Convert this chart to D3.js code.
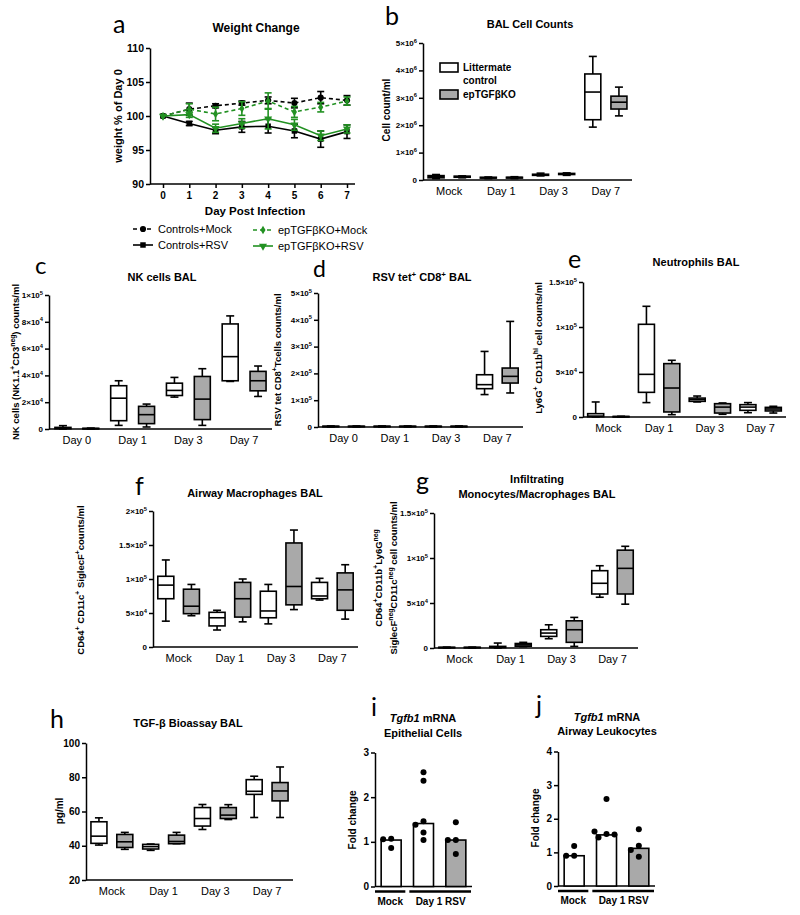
<!DOCTYPE html>
<html><head><meta charset="utf-8">
<script src="https://cdn.jsdelivr.net/npm/d3@7"></script>
<style>body{margin:0;background:#fff} svg{display:block} text{font-family:"Liberation Sans",Arial,sans-serif;fill:#000}</style>
</head><body><svg id="c" width="800" height="915"></svg>
<script>
// ---------- DATA ----------
// Panel a: weight change
const days = [0,1,2,3,4,5,6,7];
const ctrlMock = [100,101.0,101.5,101.9,102.3,101.9,102.7,102.3];
const ctrlMockErr = [0,0.9,0.3,0.3,0.5,0.7,0.9,0.7];
const ctrlRsv = [100,98.9,97.9,98.4,98.5,97.8,96.6,97.7];
const ctrlRsvErr = [0,0.3,0.5,0.8,1.0,1.0,1.2,1.0];
const koMock = [100,101.0,100.3,101.1,102.2,100.6,101.3,102.2];
const koMockErr = [0,0.8,1.0,1.0,1.2,0.8,0.7,0.6];
const koRsv = [100,100.2,98.2,98.9,99.6,98.7,97.1,98.1];
const koRsvErr = [0,0.4,0.6,0.7,1.5,0.8,0.7,0.6];
const weightTicks = [90,95,100,105,110];
const legendA = ["Controls+Mock","Controls+RSV","epTGF\u03B2KO+Mock","epTGF\u03B2KO+RSV"];

// Box plot panels: [min, q1, median, q3, max]
const groupsBox = ["Mock","Day 1","Day 3","Day 7"];
const groupsDay = ["Day 0","Day 1","Day 3","Day 7"];
const seriesNames = ["Littermate control","epTGF\u03B2KO"];

const bCtrl = [[0.05e6,0.08e6,0.12e6,0.16e6,0.2e6],[0.05e6,0.07e6,0.08e6,0.1e6,0.11e6],[0.15e6,0.17e6,0.19e6,0.21e6,0.25e6],[1.93e6,2.2e6,3.21e6,3.87e6,4.51e6]];
const bKO   = [[0.08e6,0.1e6,0.12e6,0.14e6,0.15e6],[0.05e6,0.07e6,0.09e6,0.1e6,0.12e6],[0.17e6,0.2e6,0.22e6,0.24e6,0.26e6],[2.34e6,2.59e6,2.84e6,3.06e6,3.39e6]];
const bTicks = [0,1e6,2e6,3e6,4e6,5e6];

const cCtrl = [[0,200,800,1200,2500],[2700,6200,23000,32300,36000],[23800,25000,28800,34200,38500],[35500,36000,54000,78400,84400]];
const cKO   = [[0,100,300,500,700],[1500,4000,10700,16900,18600],[2700,7000,22300,39200,45000],[24300,28500,36000,43000,47000]];
const cTicks = [0,2e4,4e4,6e4,8e4,1e5];

const dCtrl = [[0,1000,2000,3000,4000],[0,1000,2000,3000,4000],[0,1000,2000,3000,4000],[121000,143000,158000,195000,282000]];
const dKO   = [[0,1000,2000,3000,4000],[0,1000,2000,3000,4000],[0,1000,2000,3000,4000],[127000,164000,189000,220000,394000]];
const dTicks = [0,1e5,2e5,3e5,4e5,5e5];

const eCtrl = [[0,300,1000,3700,16700],[16000,27400,47400,103000,123000],[16700,17400,19300,21000,23300],[4800,7400,11000,13700,16000]];
const eKO   = [[0,200,400,600,800],[2600,5600,32200,59300,63000],[3000,4400,11000,14800,15600],[4400,6700,8900,10700,11900]];
const eTicks = [0,5e4,1e5,1.5e5];

const fCtrl = [[38000,71000,91000,104000,128000],[25000,31000,43000,51000,54000],[34000,43000,53000,82000,92000],[69000,71000,75000,95000,101000]];
const fKO   = [[46000,49000,60000,85000,92000],[37000,44000,71000,95000,100000],[55000,62000,89000,153000,172000],[41000,54000,84000,109000,121000]];
const fTicks = [0,5e4,1e5,1.5e5,2e5];

const gCtrl = [[0,300,500,800,1000],[0,500,1000,1800,5500],[10300,12900,16600,20300,25800],[56400,60000,71900,85900,91400]];
const gKO   = [[0,300,500,800,1000],[1500,2000,3500,5000,6300],[1800,6300,20300,30200,34000],[48700,60000,88500,108700,113000]];
const gTicks = [0,5e4,1e5,1.5e5];

const hCtrl = [[40.4,41.4,45.6,54,56.3],[37.3,38.1,39.5,40.8,41],[49.5,51.5,55.9,62.3,64.1],[56.5,70,71.8,78.6,80.6]];
const hKO   = [[37.9,39,42.3,46.6,47.8],[41.2,41.2,42.5,46.2,47.8],[55.3,55.9,57.9,62.3,64],[56.5,66.2,72,76.9,86]];
const hTicks = [20,40,60,80,100];

// Panels i, j: bars (mean) + individual points
const barGroups = ["Mock","Day 1 RSV"];
const iBars = [1.04,1.41,1.04];
const iDots = [[1.07,0.86,1.06],[2.56,2.37,1.46,1.38,1.21,1.04],[1.44,1.04,1.04,0.73]];
const iTicks = [0,1,2,3];
const jBars = [0.9,1.52,1.12];
const jDots = [[0.9,1.19,0.9],[2.59,1.55,1.44,1.53,1.62],[1.69,1.2,0.87,1.07]];
const jTicks = [0,1,2,3,4];

// ---------- HELPERS ----------
const svg = d3.select("#c");
const GREEN = "#229122", GRAY = "#a9a9a9";

function rich(sel, str, fs) {
  const re = /(\^\{[^}]*\})|(\*[^*]+\*)|([^\^*]+)/g;
  let m, shift = 0;
  while ((m = re.exec(str))) {
    if (m[1]) {
      sel.append("tspan").attr("dy", -fs*0.4).attr("font-size", fs*0.72).text(m[1].slice(2,-1));
      shift += fs*0.4;
    } else {
      const ts = sel.append("tspan").text(m[2] ? m[2].slice(1,-1) : m[3]);
      if (shift) { ts.attr("dy", shift); shift = 0; }
      if (m[2]) ts.attr("font-style","italic");
    }
  }
  return sel;
}
function txt(x, y, str, fs, opts={}) {
  const t = svg.append("text").attr("x", x).attr("y", y).attr("font-size", fs)
    .attr("font-weight", opts.weight || "bold").attr("text-anchor", opts.anchor || "middle");
  if (opts.family) t.style("font-family", opts.family);
  return rich(t, str, fs);
}
function vtxt(x, y, str, fs) {
  const t = svg.append("text").attr("transform", `translate(${x},${y}) rotate(-90)`)
    .attr("font-size", fs).attr("font-weight","bold").attr("text-anchor","middle");
  return rich(t, str, fs);
}
function letter(x, y, s, fs=25) {
  svg.append("text").attr("x", x).attr("y", y).attr("font-size", fs).attr("font-weight","normal")
    .style("font-family","Lato, 'Open Sans', sans-serif").text(s);
}
function sci(v) {
  if (v === 0) return "0";
  const e = Math.floor(Math.log10(v) + 1e-9);
  const m = +(v/Math.pow(10,e)).toFixed(1);
  return m + "\u00D710^{" + e + "}";
}
function yAxis(x, y, ticks, fmt, fs) {
  svg.append("g").attr("transform", `translate(${x},0)`)
    .call(d3.axisLeft(y).tickValues(ticks).tickSize(4).tickSizeOuter(0).tickFormat(""))
    .call(s => s.selectAll("path,line").attr("stroke","#000").attr("stroke-width",1.5));
  ticks.forEach(v => txt(x-6, y(v)+fs*0.36, fmt(v), fs, {anchor:"end"}));
}
function hline(x1, x2, y, w=1.5) {
  svg.append("line").attr("x1",x1).attr("x2",x2).attr("y1",y).attr("y2",y).attr("stroke","#000").attr("stroke-width",w);
}

// ---------- PANEL A ----------
(function(){
  const x = d3.scaleLinear().domain([0,7]).range([163,347]);
  const y = d3.scaleLinear().domain([90,110]).range([184,48]);
  yAxis(150, y, weightTicks, v => String(v), 10.5);
  hline(150, 355, 184);
  svg.append("g").attr("transform","translate(0,184)")
    .call(d3.axisBottom(x).tickValues(days).tickSize(4).tickFormat(""))
    .call(s => { s.select(".domain").remove(); s.selectAll("line").attr("stroke","#000").attr("stroke-width",1.5); });
  days.forEach(d => txt(x(d), 199, String(d), 10));
  txt(255, 215, "Day Post Infection", 11.5);
  vtxt(122, 116, "weight % of Day 0", 11);
  txt(256, 32, "Weight Change", 12);
  letter(113, 33, "a");

  const series = [
    {v: ctrlMock, e: ctrlMockErr, c:"#000", dash:"4,3", sym:d3.symbolCircle, size:30, rot:0},
    {v: ctrlRsv, e: ctrlRsvErr, c:"#000", dash:null, sym:d3.symbolSquare, size:30, rot:0},
    {v: koMock, e: koMockErr, c:GREEN, dash:"4,3", sym:d3.symbolDiamond, size:22, rot:0},
    {v: koRsv, e: koRsvErr, c:GREEN, dash:null, sym:d3.symbolTriangle, size:28, rot:180}
  ];
  series.forEach(s => {
    const line = d3.line().x((d,i)=>x(days[i])).y(d=>y(d));
    svg.append("path").attr("d", line(s.v)).attr("fill","none").attr("stroke", s.c)
      .attr("stroke-width",1.6).attr("stroke-dasharray", s.dash);
    s.v.forEach((v,i) => {
      if (!s.e[i]) return;
      const cx = x(days[i]), y1 = y(v - s.e[i]), y2 = y(v + s.e[i]);
      const g = svg.append("g").attr("stroke", s.c).attr("stroke-width",1.6);
      g.append("line").attr("x1",cx).attr("x2",cx).attr("y1",y1).attr("y2",y2);
      g.append("line").attr("x1",cx-3.5).attr("x2",cx+3.5).attr("y1",y1).attr("y2",y1);
      g.append("line").attr("x1",cx-3.5).attr("x2",cx+3.5).attr("y1",y2).attr("y2",y2);
    });
    s.v.forEach((v,i) => {
      svg.append("path").attr("d", d3.symbol(s.sym, s.size)())
        .attr("transform", `translate(${x(days[i])},${y(v)}) rotate(${s.rot})`).attr("fill", s.c);
    });
  });
  // legend
  const lg = [
    {x:133, y:229, s:series[0]}, {x:133, y:245, s:series[1]},
    {x:253, y:230, s:series[2]}, {x:253, y:246, s:series[3]}
  ];
  lg.forEach((l,i) => {
    svg.append("line").attr("x1",l.x).attr("x2",l.x+20).attr("y1",l.y).attr("y2",l.y)
      .attr("stroke", l.s.c).attr("stroke-width",1.6).attr("stroke-dasharray", l.s.dash);
    svg.append("path").attr("d", d3.symbol(l.s.sym, l.s.size)())
      .attr("transform", `translate(${l.x+10},${l.y}) rotate(${l.s.rot})`).attr("fill", l.s.c);
    txt(l.x+25, l.y+4, legendA[i], 11, {anchor:"start", weight:"normal"});
  });
})();

// ---------- BOX PANELS ----------
function boxPanel(o) {
  const x = d3.scaleBand().domain(o.groups).range([o.xl, o.xr]);
  const y = d3.scaleLinear().domain(o.domain).range([o.yb, o.yt]);
  yAxis(o.xl, y, o.ticks, o.fmt || sci, o.tfs || 8);
  hline(o.xl, o.xr, o.yb);
  o.groups.forEach(gname => txt(x(gname) + x.bandwidth()/2, o.yb + 15, gname, 11, {weight:"normal"}));
  const bw = 16, cw = 8;
  [o.ctrl, o.ko].forEach((ser, si) => ser.forEach((d, i) => {
    const cx = x(o.groups[i]) + x.bandwidth() * (si === 0 ? 0.25 : 0.75);
    const [mn, q1, md, q3, mx] = d;
    const g = svg.append("g").attr("stroke","#000").attr("stroke-width",1.6);
    g.append("line").attr("x1",cx).attr("x2",cx).attr("y1",y(mn)).attr("y2",y(mx));
    g.append("line").attr("x1",cx-cw/2).attr("x2",cx+cw/2).attr("y1",y(mn)).attr("y2",y(mn));
    g.append("line").attr("x1",cx-cw/2).attr("x2",cx+cw/2).attr("y1",y(mx)).attr("y2",y(mx));
    g.append("rect").attr("x",cx-bw/2).attr("width",bw).attr("y",y(q3)).attr("height",Math.max(0.5,y(q1)-y(q3)))
      .attr("fill", si === 0 ? "#fff" : GRAY);
    g.append("line").attr("x1",cx-bw/2).attr("x2",cx+bw/2).attr("y1",y(md)).attr("y2",y(md));
  }));
  return {x, y};
}

// b
boxPanel({xl:423, xr:632, yb:180, yt:43, domain:[0,5e6], ticks:bTicks, groups:groupsBox, ctrl:bCtrl, ko:bKO});
letter(385, 25, "b");
txt(530, 28, "BAL Cell Counts", 11);
vtxt(390, 110, "Cell count/ml", 10);
// legend b
svg.append("rect").attr("x",440).attr("y",63).attr("width",18).attr("height",9).attr("fill","#fff").attr("stroke","#000").attr("stroke-width",1.6);
svg.append("rect").attr("x",440).attr("y",90).attr("width",18).attr("height",9).attr("fill",GRAY).attr("stroke","#000").attr("stroke-width",1.6);
txt(463, 71, "Littermate", 10, {anchor:"start"});
txt(463, 84, "control", 10, {anchor:"start"});
txt(463, 98, seriesNames[1], 10, {anchor:"start"});

// c
boxPanel({xl:49, xr:272, yb:429, yt:295, domain:[0,1e5], ticks:cTicks, groups:groupsDay, ctrl:cCtrl, ko:cKO});
letter(35, 274, "c", 24);
txt(162, 281, "NK cells BAL", 11);
vtxt(19, 362, "NK cells (NK1.1^{+}CD3^{neg}) counts/ml", 9.5);

// d
boxPanel({xl:318, xr:523, yb:427, yt:293, domain:[0,5e5], ticks:dTicks, groups:groupsDay, ctrl:dCtrl, ko:dKO});
letter(313, 277, "d", 23);
txt(422, 281, "RSV tet^{+} CD8^{+} BAL", 11);
vtxt(281, 360, "RSV tet CD8^{+}Tcells counts/ml", 9.5);

// e
boxPanel({xl:583, xr:786, yb:417, yt:282, domain:[0,1.5e5], ticks:eTicks, groups:groupsBox, ctrl:eCtrl, ko:eKO});
letter(568, 268, "e");
txt(696, 266, "Neutrophils BAL", 11);
vtxt(542, 348, "Ly6G^{+} CD11b^{hi} cell counts/ml", 9.5);

// f
boxPanel({xl:153, xr:358, yb:647, yt:511, domain:[0,2e5], ticks:fTicks, groups:groupsBox, ctrl:fCtrl, ko:fKO});
letter(135, 495, "f");
txt(255, 497, "Airway Macrophages BAL", 11);
vtxt(84, 580, "CD64^{+} CD11c^{+} SiglecF^{+}counts/ml", 9.5);

// g
boxPanel({xl:434, xr:638, yb:648, yt:513, domain:[0,1.5e5], ticks:gTicks, groups:groupsBox, ctrl:gCtrl, ko:gKO});
letter(416, 490, "g");
txt(537, 483, "Infiltrating", 11);
txt(537, 498, "Monocytes/Macrophages BAL", 11);
vtxt(382, 578, "CD64^{+}CD11b^{+}Ly6G^{neg}", 9.5);
vtxt(397, 578, "SiglecF^{neg}CD11c^{neg} cell counts/ml", 9.5);

// h
boxPanel({xl:86, xr:293, yb:880, yt:743, domain:[20,100], ticks:hTicks, groups:groupsBox, ctrl:hCtrl, ko:hKO, fmt: v => String(v), tfs:10});
letter(50, 728, "h");
txt(188, 727, "TGF-\u03B2 Bioassay BAL", 11);
vtxt(63, 811, "pg/ml", 10);

// ---------- BAR + DOT PANELS ----------
function barPanel(o) {
  const x = d3.scaleBand().domain([0,1,2]).range([o.xl, o.xr]);
  const y = d3.scaleLinear().domain(o.domain).range([o.yb, o.yt]);
  yAxis(o.xl, y, o.ticks, v => String(v), 10);
  hline(o.xl, o.xr, o.yb);
  const bw = 20, r = 3;
  o.bars.forEach((v, i) => {
    const cx = x(i) + x.bandwidth()/2;
    svg.append("rect").attr("x", cx-bw/2).attr("width", bw).attr("y", y(v)).attr("height", y(0)-y(v))
      .attr("fill", i === 2 ? GRAY : "#fff").attr("stroke","#000").attr("stroke-width",1.6);
    const placed = [];
    const offs = [0,-4,4,-8,8,-12,12];
    o.dots[i].forEach(d => {
      const py = y(d);
      let px = cx;
      for (const dx of offs) {
        if (placed.every(p => Math.hypot(p[0]-(cx+dx), p[1]-py) >= 2*r+0.5)) { px = cx+dx; break; }
      }
      placed.push([px, py]);
      svg.append("circle").attr("cx", px).attr("cy", py).attr("r", r).attr("fill","#000");
    });
  });
  const b0 = x(0), b1 = x(1), bwid = x.bandwidth();
  hline(o.xl, b0 + bwid - 2, o.yb + 5, 2.5);
  hline(b1 + 2, o.xr - 1, o.yb + 5, 2.5);
  txt((o.xl + b0 + bwid - 2)/2, o.yb + 18, barGroups[0], 10);
  txt((b1 + 2 + o.xr)/2, o.yb + 18, barGroups[1], 10);
}
barPanel({xl:375, xr:472, yb:886.5, yt:752.5, domain:[0,3], ticks:iTicks, bars:iBars, dots:iDots});
letter(371, 716, "i");
txt(423, 722, "*Tgfb1* mRNA", 11);
txt(423, 737, "Epithelial Cells", 11);
vtxt(356, 820, "Fold change", 10);

barPanel({xl:558, xr:655, yb:886, yt:751.5, domain:[0,4], ticks:jTicks, bars:jBars, dots:jDots});
letter(536, 714, "j");
txt(607, 721, "*Tgfb1* mRNA", 11);
txt(607, 735, "Airway Leukocytes", 11);
vtxt(539, 818, "Fold change", 10);
</script></body></html>
